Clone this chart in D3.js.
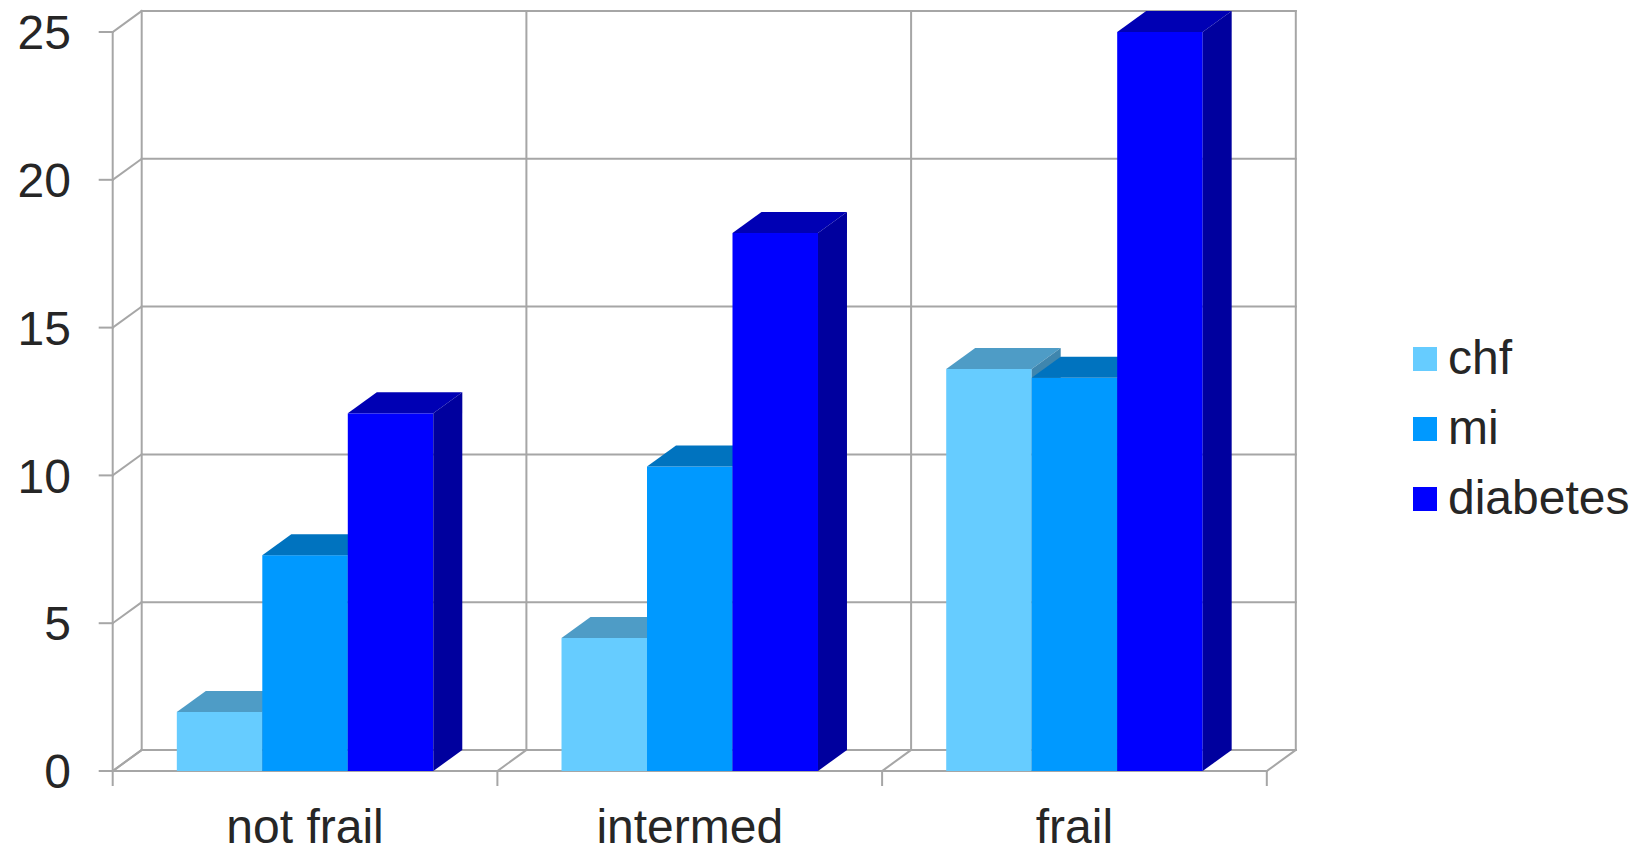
<!DOCTYPE html>
<html>
<head>
<meta charset="utf-8">
<script src="https://cdn.jsdelivr.net/npm/d3@7"></script>
<style>
  html, body { margin: 0; padding: 0; background: #ffffff; }
  svg { display: block; }
  text { font-family: "Liberation Sans", Arial, sans-serif; fill: #262626; }
</style>
</head>
<body>
<svg id="chart" width="1642" height="847"></svg>
<script>
// Categories, series and values
const categories = ["not frail", "intermed", "frail"];
const seriesNames = ["chf", "mi", "diabetes"];
const chf = [2.0, 4.5, 13.6];
const mi = [7.3, 10.3, 13.3];
const diabetes = [12.1, 18.2, 25.0];
const yTicks = [0, 5, 10, 15, 20, 25];

const seriesValues = [chf, mi, diabetes];

// Face colours per series: front, top, side
const faceColors = [
  { front: "#66CCFF", top: "#4E9CC6", side: "#3F86AE" },
  { front: "#0099FF", top: "#0073BF", side: "#0062A8" },
  { front: "#0000FF", top: "#0000B4", side: "#00009E" }
];

const svg = d3.select("#chart");
const W = 1642, H = 847;
svg.append("rect").attr("width", W).attr("height", H).attr("fill", "#fff");

// Oblique depth of the 3-D box
const DX = 29, DY = -21;
const left = 112.7, right = 1266.8;
const y = d3.scaleLinear().domain([0, 25]).range([771, 32]);
const x0 = d3.scaleBand().domain(categories).range([left, right]).padding(0);
const x1 = d3.scaleBand().domain(seriesNames).range([0, x0.bandwidth()])
  .paddingInner(0).paddingOuter(0.75);

const gridColor = "#A6A6A6";
const gw = 2;
const grid = svg.append("g").attr("stroke", gridColor).attr("stroke-width", gw)
  .attr("fill", "none").attr("stroke-linecap", "square");

const y0 = y(0);
const yTop = y(25);

// Back wall horizontal gridlines and left-wall diagonals
yTicks.forEach(t => {
  const yy = y(t);
  grid.append("line").attr("x1", left + DX).attr("x2", right + DX)
    .attr("y1", yy + DY).attr("y2", yy + DY);
  grid.append("line").attr("x1", left).attr("x2", left + DX)
    .attr("y1", yy).attr("y2", yy + DY);
  // tick marks on the value axis
  grid.append("line").attr("x1", left - 13).attr("x2", left)
    .attr("y1", yy).attr("y2", yy);
});

// Back wall vertical edges and category dividers
const dividers = categories.map(c => x0(c)).concat([right]);
dividers.forEach(xx => {
  grid.append("line").attr("x1", xx + DX).attr("x2", xx + DX)
    .attr("y1", yTop + DY).attr("y2", y0 + DY);
  // floor diagonals
  grid.append("line").attr("x1", xx).attr("x2", xx + DX)
    .attr("y1", y0).attr("y2", y0 + DY);
  // category ticks below the floor
  grid.append("line").attr("x1", xx).attr("x2", xx)
    .attr("y1", y0).attr("y2", y0 + 14);
});

// Front value axis line and floor front edge
grid.append("line").attr("x1", left).attr("x2", left).attr("y1", yTop).attr("y2", y0);
grid.append("line").attr("x1", left).attr("x2", right).attr("y1", y0).attr("y2", y0);

// Value axis labels
svg.append("g").selectAll("text").data(yTicks).join("text")
  .attr("x", 71).attr("y", d => y(d)).attr("dy", "0.36em")
  .attr("text-anchor", "end").attr("font-size", 48).text(d => d);

// Category labels
svg.append("g").selectAll("text").data(categories).join("text")
  .attr("x", d => x0(d) + x0.bandwidth() / 2).attr("y", 843)
  .attr("text-anchor", "middle").attr("font-size", 48).text(d => d);

// 3-D bars: front, top and side faces, drawn left to right
const bars = svg.append("g");
categories.forEach((cat, ci) => {
  seriesNames.forEach((s, si) => {
    const v = seriesValues[si][ci];
    const bx = x0(cat) + x1(s);
    const bw = x1.bandwidth();
    const by = y(v);
    const col = faceColors[si];
    const g = bars.append("g");
    g.append("rect").attr("x", bx).attr("y", by).attr("width", bw)
      .attr("height", y0 - by).attr("fill", col.front);
    g.append("path").attr("fill", col.top)
      .attr("d", `M${bx},${by}L${bx + bw},${by}L${bx + bw + DX},${by + DY}L${bx + DX},${by + DY}Z`);
    g.append("path").attr("fill", col.side)
      .attr("d", `M${bx + bw},${by}L${bx + bw + DX},${by + DY}L${bx + bw + DX},${y0 + DY}L${bx + bw},${y0}Z`);
  });
});

// Legend
const legend = svg.append("g");
seriesNames.forEach((s, i) => {
  const cy = 359 + i * 70;
  legend.append("rect").attr("x", 1413).attr("y", cy - 12).attr("width", 24).attr("height", 24)
    .attr("fill", faceColors[i].front);
  legend.append("text").attr("x", 1448).attr("y", cy + 15)
    .attr("font-size", 48).text(s);
});
</script>
</body>
</html>
